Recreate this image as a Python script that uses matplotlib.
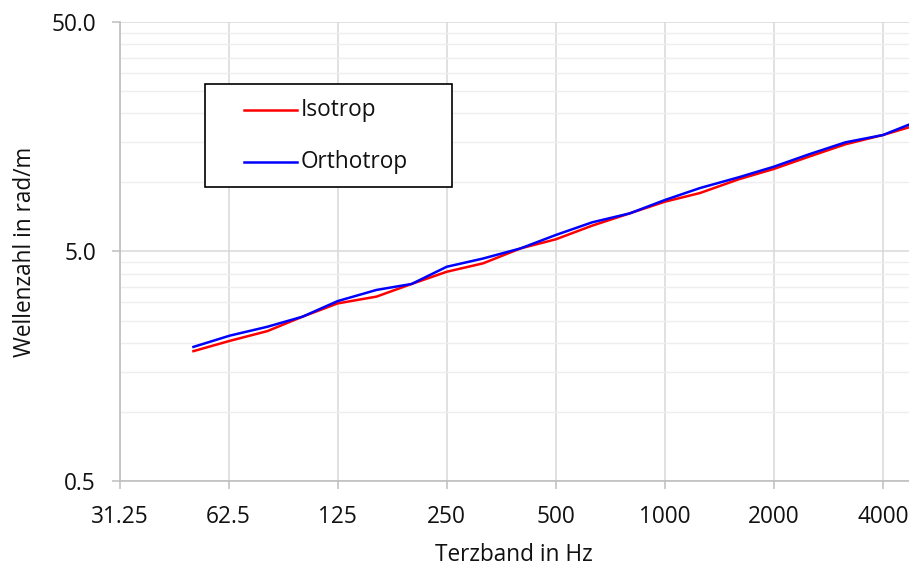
import numpy as np
import matplotlib
matplotlib.use("Agg")
import matplotlib.pyplot as plt
from matplotlib.ticker import FixedLocator, FixedFormatter, NullFormatter
from matplotlib.patches import Rectangle
from matplotlib.lines import Line2D

plt.rcParams['font.family'] = ['Open Sans', 'DejaVu Sans']

# Terzbandmitten in Hz
freq = [50, 63, 80, 100, 125, 160, 200, 250, 315, 400, 500, 630, 800,
        1000, 1250, 1600, 2000, 2500, 3150, 4000, 5000]
# Wellenzahl in rad/m
k_iso = [1.84, 2.04, 2.25, 2.60, 2.97, 3.18, 3.61, 4.08, 4.44, 5.16, 5.65,
         6.48, 7.33, 8.24, 8.99, 10.32, 11.45, 12.95, 14.66, 16.09, 17.86]
k_ortho = [1.92, 2.15, 2.35, 2.60, 3.04, 3.40, 3.61, 4.29, 4.66, 5.16, 5.90,
           6.70, 7.33, 8.38, 9.45, 10.53, 11.71, 13.26, 14.95, 16.09, 18.52]

series = ['Isotrop', 'Orthotrop']
colors = ['#ff0000', '#0000ff']

xticks = [31.25, 62.5, 125, 250, 500, 1000, 2000, 4000]
xticklabels = ['31.25', '62.5', '125', '250', '500', '1000', '2000', '4000']
yticks = [0.5, 5.0, 50.0]
yticklabels = ['0.5', '5.0', '50.0']
yminor = [1, 1.5, 2, 2.5, 3, 3.5, 4, 4.5, 10, 15, 20, 25, 30, 35, 40, 45]

FS = 16.3
W, H = 909, 567
fig = plt.figure(figsize=(W / 100, H / 100), dpi=100)
ax = fig.add_axes([119.5 / W, (H - 481) / H, (W - 119.5) / W, (481 - 22) / H])

ax.set_xscale('log', base=2)
ax.set_yscale('log')
ax.set_xlim(31.25, 4719)
ax.set_ylim(0.5, 50)

for vals, c in zip([k_iso, k_ortho], colors):
    ax.plot(freq, vals, color=c, lw=1.8, solid_joinstyle='round', zorder=3)

ax.xaxis.set_major_locator(FixedLocator(xticks))
ax.xaxis.set_major_formatter(FixedFormatter(xticklabels))
ax.xaxis.set_minor_locator(FixedLocator([]))
ax.yaxis.set_major_locator(FixedLocator(yticks))
ax.yaxis.set_major_formatter(FixedFormatter(yticklabels))
ax.yaxis.set_minor_locator(FixedLocator(yminor))
ax.yaxis.set_minor_formatter(NullFormatter())

ax.grid(True, which='major', color='#d9d9d9', lw=1.1, zorder=0)
ax.grid(True, which='minor', axis='y', color='#eeeeee', lw=1.0, zorder=0)
ax.set_axisbelow(True)

for s in ['top', 'right']:
    ax.spines[s].set_visible(False)
for s in ['left', 'bottom']:
    ax.spines[s].set_color('#bfbfbf')
    ax.spines[s].set_linewidth(1.2)

ax.tick_params(which='major', length=6, width=1.1, color='#bfbfbf',
               labelsize=FS, labelcolor='#111111')
ax.tick_params(axis='x', which='major', pad=11.5)
ax.tick_params(axis='y', which='major', pad=11)
ax.tick_params(which='minor', length=0)

ax.set_xlabel('Terzband in Hz', fontsize=FS, color='#111111', labelpad=10)
ax.set_ylabel('Wellenzahl in rad/m', fontsize=FS, color='#111111', labelpad=10)

# Legende mit Rahmen
def fx(px):
    return px / W

def fy(py):
    return 1 - py / H

fig.patches.append(Rectangle((fx(204.5), fy(187.3)), fx(451.5) - fx(204.5),
                             fy(84.3) - fy(187.3), transform=fig.transFigure,
                             facecolor='white', edgecolor='black', lw=1.2,
                             zorder=5))
for i, (name, c) in enumerate(zip(series, colors)):
    yy = 110 + i * 51.5
    fig.lines.append(Line2D([fx(244), fx(297)], [fy(yy), fy(yy)],
                            transform=fig.transFigure, color=c, lw=1.8,
                            zorder=6))
    fig.text(fx(301), fy(yy), name, fontsize=FS, color='#111111',
             va='center', ha='left', zorder=6)

fig.savefig('out.png', dpi=100)
